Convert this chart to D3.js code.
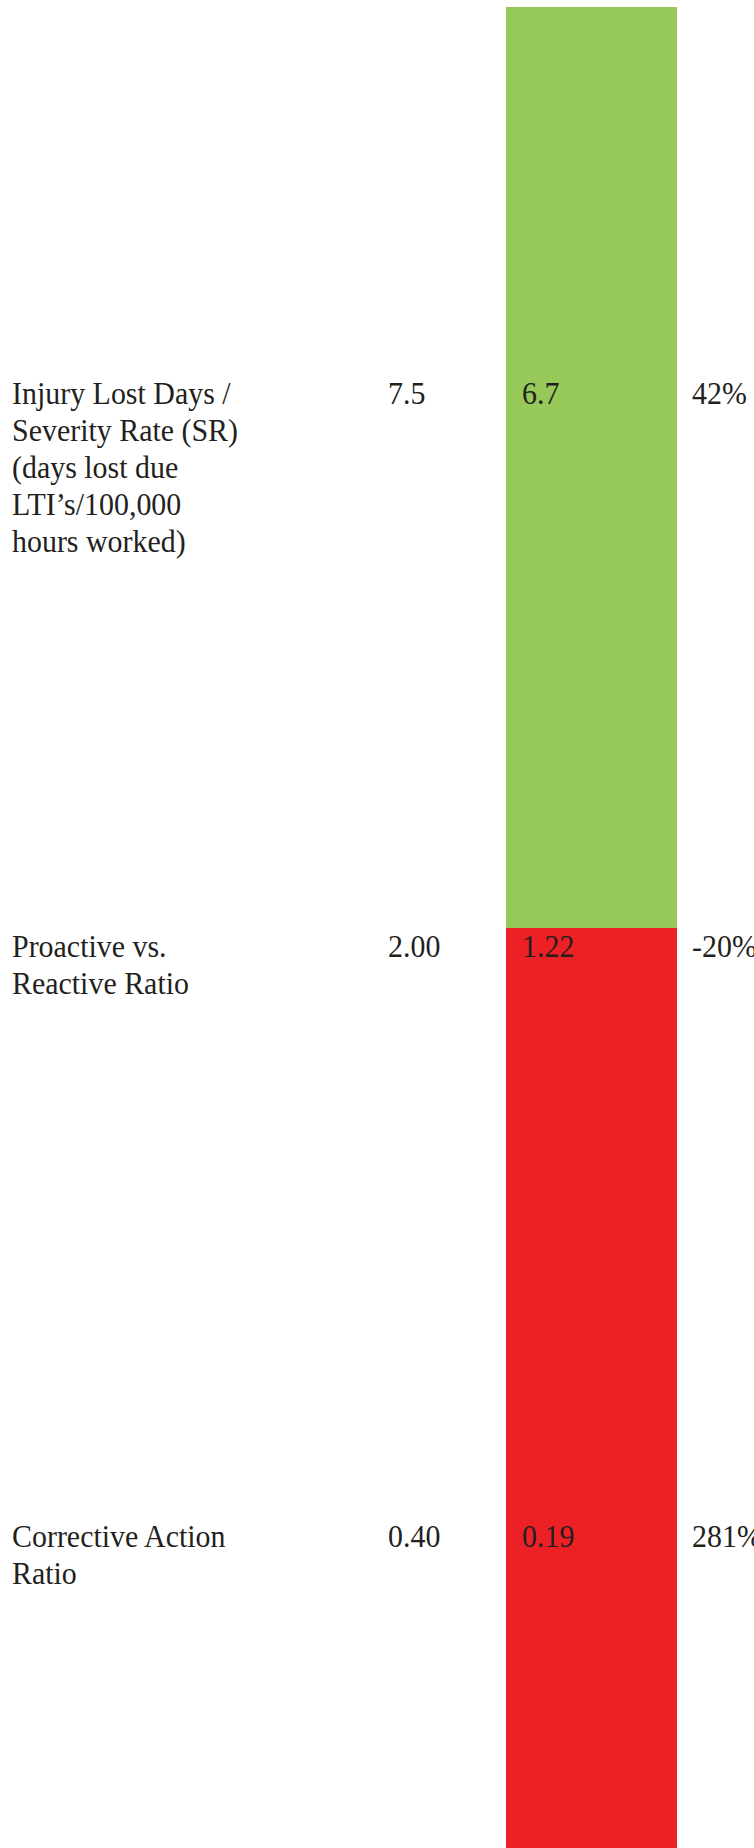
<!DOCTYPE html>
<html>
<head>
<meta charset="utf-8">
<script src="https://cdn.jsdelivr.net/npm/d3@7"></script>
<style>
  body { margin: 0; background: #fff; }
  svg { display: block; }
</style>
</head>
<body>
<div class="o"></div>
<script>
(() => {

  // table rows
  const labels = [
    ["Injury Lost Days /", "Severity Rate (SR)", "(days lost due", "LTI\u2019s/100,000", "hours worked)"],
    ["Proactive vs.", "Reactive Ratio"],
    ["Corrective Action", "Ratio"]
  ]
  const targets = ["7.5", "2.00", "0.40"]
  const actuals = ["6.7", "1.22", "0.19"]
  const changes = ["42%", "-20%", "281%"]
  const status = ["good", "bad", "bad"]

  const width = 754
  const height = 1848

  // layout: where each row's cell starts / ends, text sits 29px under the row top
  const rowTops = [375, 928, 1518]
  const cellEdges = [7, 928, 1518, height]
  const lineHeight = 37
  const textOffset = 29
  const squeeze = 0.95 // the pdf type is a touch narrower than Liberation Serif

  const rows = labels.map((l, i) => ({
    label: l,
    target: targets[i],
    actual: actuals[i],
    change: changes[i],
    status: status[i],
    i: i
  }))

  const xScale = d3.scaleOrdinal()
    .domain(["label", "target", "actual", "change"])
    .range([12, 388, 522, 692])

  const cellX = d3.scaleLinear().domain([0, 1]).range([506, 677])

  const color = d3.scaleOrdinal()
    .domain(["good", "bad"])
    .range(["#96c957", "#ed2125"])

  const svg = d3.select(".o").append("svg")
    .attr("width", width)
    .attr("height", height)
    .attr("viewBox", `0 0 ${width} ${height}`)

  svg.append("rect")
    .attr("width", width)
    .attr("height", height)
    .attr("fill", "#fff")

  // status cells
  svg.selectAll("rect.cell")
    .data(rows)
    .join("rect")
      .attr("class", "cell")
      .attr("x", cellX(0))
      .attr("width", cellX(1) - cellX(0))
      .attr("y", d => cellEdges[d.i])
      .attr("height", d => cellEdges[d.i + 1] - cellEdges[d.i])
      .attr("fill", d => color(d.status))

  const g = svg.selectAll("g.row")
    .data(rows)
    .join("g")
      .attr("class", "row")
      .attr("transform", d => `translate(0, ${rowTops[d.i] + textOffset})`)
      .attr("font-family", "'Liberation Serif', 'Times New Roman', serif")
      .attr("font-size", 31.5)
      .attr("fill", "#231f20")

  const cell = (key) => g.append("g")
    .attr("transform", `translate(${xScale(key)}, 0) scale(${squeeze}, 1)`)

  cell("label").append("text")
    .selectAll("tspan")
    .data(d => d.label)
    .join("tspan")
      .attr("x", 0)
      .attr("y", (d, j) => j * lineHeight)
      .text(d => d)

  cell("target").append("text").text(d => d.target)
  cell("actual").append("text").text(d => d.actual)
  cell("change").append("text").text(d => d.change)

})()
</script>
</body>
</html>
